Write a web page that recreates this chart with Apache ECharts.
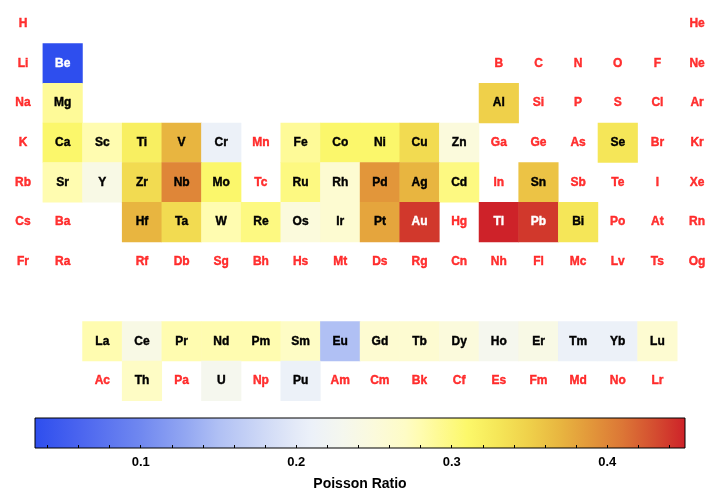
<!DOCTYPE html>
<html>
<head>
<meta charset="utf-8">
<script src="https://cdn.jsdelivr.net/npm/echarts@6/dist/echarts.min.js"></script>
<style>
  html, body { margin: 0; padding: 0; background: #fff; }
  #chart { width: 720px; height: 492px; }
</style>
</head>
<body>
<div id="chart"></div>
<script>
// periodic table layout, '.' = empty slot (row 8 is the gap before the f-block)
var tableRows = [
  'H . . . . . . . . . . . . . . . . He',
  'Li Be . . . . . . . . . . B C N O F Ne',
  'Na Mg . . . . . . . . . . Al Si P S Cl Ar',
  'K Ca Sc Ti V Cr Mn Fe Co Ni Cu Zn Ga Ge As Se Br Kr',
  'Rb Sr Y Zr Nb Mo Tc Ru Rh Pd Ag Cd In Sn Sb Te I Xe',
  'Cs Ba . Hf Ta W Re Os Ir Pt Au Hg Tl Pb Bi Po At Rn',
  'Fr Ra . Rf Db Sg Bh Hs Mt Ds Rg Cn Nh Fl Mc Lv Ts Og',
  '. . . . . . . . . . . . . . . . . .',
  '. . La Ce Pr Nd Pm Sm Eu Gd Tb Dy Ho Er Tm Yb Lu .',
  '. . Ac Th Pa U Np Pu Am Cm Bk Cf Es Fm Md No Lr .'
];

// elements that have a Poisson ratio
var ratioSymbols = ['Be', 'Mg', 'Al', 'Ca', 'Sc', 'Ti', 'V', 'Cr', 'Fe', 'Co', 'Ni', 'Cu', 'Zn', 'Se',
  'Sr', 'Y', 'Zr', 'Nb', 'Mo', 'Ru', 'Rh', 'Pd', 'Ag', 'Cd', 'Sn',
  'Hf', 'Ta', 'W', 'Re', 'Os', 'Ir', 'Pt', 'Au', 'Tl', 'Pb', 'Bi',
  'La', 'Ce', 'Pr', 'Nd', 'Pm', 'Sm', 'Eu', 'Gd', 'Tb', 'Dy', 'Ho', 'Er', 'Tm', 'Yb', 'Lu',
  'Th', 'U', 'Pu'];
var ratioValues = [0.032, 0.29, 0.35, 0.31, 0.28, 0.32, 0.37, 0.21, 0.29, 0.31, 0.31, 0.34, 0.25, 0.33,
  0.28, 0.24, 0.34, 0.40, 0.31, 0.30, 0.26, 0.39, 0.37, 0.30, 0.36,
  0.37, 0.34, 0.28, 0.30, 0.25, 0.26, 0.38, 0.44, 0.45, 0.44, 0.33,
  0.28, 0.24, 0.28, 0.28, 0.28, 0.27, 0.15, 0.26, 0.26, 0.25, 0.23, 0.24, 0.21, 0.21, 0.26,
  0.27, 0.23, 0.21];

var scaleMin = 0.032, scaleMax = 0.45;
var tickLabels = [0.1, 0.2, 0.3, 0.4];
var tickMarks = [0.04, 0.06, 0.08, 0.10, 0.12, 0.14, 0.16, 0.18, 0.20, 0.22, 0.24, 0.26, 0.28,
  0.30, 0.32, 0.34, 0.36, 0.38, 0.40, 0.42, 0.44];

// colour ramp (blue - white - yellow - red)
var rampStops = [
  [0.032, '#2e4eee'], [0.06, '#4a64ef'], [0.10, '#7088f0'], [0.13, '#94a8f2'],
  [0.15, '#b0c0f4'], [0.18, '#d0daf6'], [0.20, '#e4eaf8'], [0.21, '#ecf1f9'],
  [0.23, '#f5f7ee'], [0.25, '#fbfadc'], [0.27, '#fefcc6'], [0.28, '#fffcb0'],
  [0.29, '#fefa98'], [0.31, '#fcf86a'], [0.33, '#f5e658'], [0.35, '#efd04a'],
  [0.37, '#e8b540'], [0.39, '#e2963a'], [0.41, '#dc7636'], [0.43, '#d44e30'], [0.45, '#ce2229']
];
function hex2rgb(h) {
  return [parseInt(h.substr(1, 2), 16), parseInt(h.substr(3, 2), 16), parseInt(h.substr(5, 2), 16)];
}
function rampColor(v) {
  for (var i = 1; i < rampStops.length; i++) {
    if (v <= rampStops[i][0]) {
      var a = rampStops[i - 1], b = rampStops[i];
      var t = (v - a[0]) / (b[0] - a[0]);
      var ca = hex2rgb(a[1]), cb = hex2rgb(b[1]);
      return 'rgb(' + ca.map(function (c, k) { return Math.round(c + (cb[k] - c) * t); }).join(',') + ')';
    }
  }
  return rampStops[rampStops.length - 1][1];
}
var rampColors = [];
for (var s = 0; s <= 100; s++) rampColors.push(rampColor(scaleMin + (scaleMax - scaleMin) * s / 100));
var gradStops = rampStops.map(function (st) {
  return { offset: (st[0] - scaleMin) / (scaleMax - scaleMin), color: st[1] };
});

var cols = [], rows = [];
for (var c = 0; c < 18; c++) cols.push(String(c + 1));
for (var r = 0; r < tableRows.length; r++) rows.push(String(r + 1));

var cellData = [], plainData = [];
tableRows.forEach(function (line, ri) {
  line.split(' ').forEach(function (sym, ci) {
    if (sym === '.') return;
    var idx = ratioSymbols.indexOf(sym);
    if (idx >= 0) {
      var v = ratioValues[idx];
      var light = v < 0.06 || v > 0.42;
      var col = light ? '#fff' : '#000';
      cellData.push({ name: sym, value: [ci, ri, v], label: { color: col, textBorderColor: col } });
    } else {
      plainData.push({ name: sym, value: [ci, ri] });
    }
  });
});

var font = 'Liberation Sans, Arial, Helvetica, sans-serif';
var chart = echarts.init(document.getElementById('chart'));
chart.setOption({
  animation: false,
  grid: [
    { left: 3.2, top: 3.8, width: 713.7, height: 397 },
    { left: 35, top: 418, width: 650, height: 33, show: true, borderColor: '#000', borderWidth: 1, backgroundColor: 'transparent', z: 10 }
  ],
  xAxis: [
    { type: 'category', data: cols, gridIndex: 0, show: false },
    {
      type: 'value', gridIndex: 1, min: scaleMin, max: scaleMax, position: 'bottom', z: 12,
      axisLine: { show: false },
      splitLine: { show: false },
      axisTick: { show: true, inside: true, length: 3, lineStyle: { color: '#000' }, customValues: tickMarks },
      axisLabel: {
        customValues: tickLabels, color: '#000', fontWeight: 'bold', fontSize: 13, fontFamily: font, margin: 8,
        formatter: function (v) { return v.toFixed(1); }
      },
      name: 'Poisson Ratio', nameLocation: 'middle', nameGap: 29,
      nameTextStyle: { color: '#000', fontWeight: 'bold', fontSize: 14, fontFamily: font }
    }
  ],
  yAxis: [
    { type: 'category', data: rows, inverse: true, gridIndex: 0, show: false },
    { type: 'value', gridIndex: 1, show: false, min: 0, max: 1 }
  ],
  visualMap: {
    type: 'continuous', seriesIndex: 0, min: scaleMin, max: scaleMax, show: false,
    inRange: { color: rampColors }
  },
  series: [
    {
      type: 'heatmap', xAxisIndex: 0, yAxisIndex: 0, data: cellData, silent: true,
      label: { show: true, formatter: '{b}', fontWeight: 'bold', fontSize: 12, fontFamily: font, textBorderWidth: 0.4 }
    },
    {
      type: 'scatter', xAxisIndex: 0, yAxisIndex: 0, data: plainData, silent: true,
      symbol: 'rect', symbolSize: 1, itemStyle: { color: 'rgba(0,0,0,0)' },
      label: {
        show: true, position: 'inside', formatter: '{b}', color: '#ff0000',
        textBorderColor: '#ff0000', textBorderWidth: 0.4,
        fontWeight: 'bold', fontSize: 12, fontFamily: font
      }
    },
    {
      // colour bar: one rectangle spanning the scale range, filled with the ramp
      type: 'custom', xAxisIndex: 1, yAxisIndex: 1, silent: true, z: 1,
      data: [[scaleMin, scaleMax]],
      renderItem: function (params, api) {
        var p0 = api.coord([api.value(0), 1]);
        var p1 = api.coord([api.value(1), 0]);
        return {
          type: 'rect',
          shape: { x: p0[0], y: p0[1], width: p1[0] - p0[0], height: p1[1] - p0[1] },
          style: { fill: new echarts.graphic.LinearGradient(0, 0, 1, 0, gradStops) }
        };
      }
    }
  ]
});
</script>
</body>
</html>
